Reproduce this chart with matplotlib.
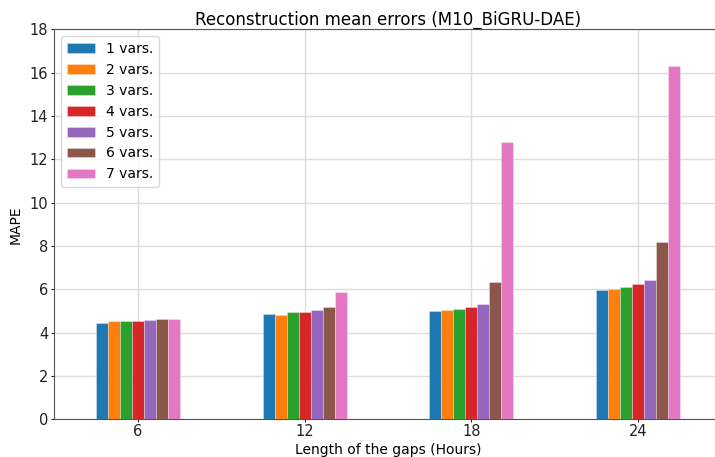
import matplotlib
matplotlib.use("Agg")
import matplotlib.pyplot as plt
import numpy as np

gaps = ["6", "12", "18", "24"]
series_labels = ["1 vars.", "2 vars.", "3 vars.", "4 vars.", "5 vars.", "6 vars.", "7 vars."]
v1 = [4.44, 4.86, 4.98, 5.95]
v2 = [4.53, 4.83, 5.04, 6.00]
v3 = [4.53, 4.93, 5.10, 6.10]
v4 = [4.53, 4.96, 5.18, 6.23]
v5 = [4.59, 5.04, 5.32, 6.44]
v6 = [4.63, 5.16, 6.32, 8.17]
v7 = [4.63, 5.89, 12.78, 16.32]
values = [v1, v2, v3, v4, v5, v6, v7]
colors = ["#1f77b4", "#ff7f0e", "#2ca02c", "#d62728", "#9467bd", "#8c564b", "#e377c2"]

fig = plt.figure(figsize=(7.15, 4.57), dpi=100)
ax = fig.add_axes([0.0762, 0.0825, 0.933, 0.8535])

x = np.arange(len(gaps))
w = 0.072
for i, (vals, lab, c) in enumerate(zip(values, series_labels, colors)):
    ax.bar(x + (i - 3) * w, vals, width=w, color=c, label=lab,
           edgecolor=(1, 1, 1, 0.35), linewidth=0.6, zorder=3)

ax.set_xlim(-0.5, 3.5)
ax.set_ylim(0, 18)
ax.set_yticks(np.arange(0, 19, 2))
ax.set_xticks(x)
ax.set_xticklabels(gaps)
ax.grid(True, color="#dddddd", linewidth=1.0, zorder=0)
ax.set_axisbelow(True)
for s in ax.spines.values():
    s.set_color("#555555")
ax.tick_params(colors="#222222", labelsize=10.5, length=2, pad=2.5)
ax.tick_params(axis="x", pad=1.5)
ax.set_title("Reconstruction mean errors (M10_BiGRU-DAE)", fontsize=12, pad=3.5)
ax.set_xlabel("Length of the gaps (Hours)", fontsize=10, labelpad=2.5)
ax.set_ylabel("MAPE", fontsize=10, labelpad=5)
ax.legend(loc="upper left", fontsize=10)

fig.savefig("out.png", dpi=100)
